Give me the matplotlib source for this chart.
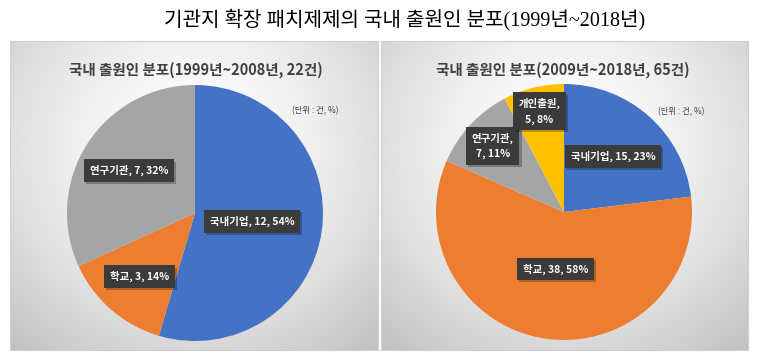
import numpy as np
import matplotlib.pyplot as plt
import matplotlib.patheffects as pe

plt.rcParams['font.family'] = ['Noto Sans CJK KR', 'DejaVu Sans']

#------------------------------------data-----------------------------------------
main_title = "기관지 확장 패치제제의 국내 출원인 분포(1999년~2018년)"

left_title = "국내 출원인 분포(1999년~2008년, 22건)"
left_names = ["국내기업", "학교", "연구기관"]
left_counts = [12, 3, 7]
left_pct = [54, 14, 32]

right_title = "국내 출원인 분포(2009년~2018년, 65건)"
right_names = ["국내기업", "학교", "연구기관", "개인출원"]
right_counts = [15, 38, 7, 5]
right_pct = [23, 58, 11, 8]

unit_text = "(단위 : 건, %)"

#------------------------------------style-----------------------------------------
colors = {"국내기업": "#4472C4", "학교": "#ED7D31", "연구기관": "#A5A5A5", "개인출원": "#FFC000"}
W, H = 757, 361

fig = plt.figure(figsize=(W / 100, H / 100), dpi=100)
fig.patch.set_facecolor("white")


def px_axes(x0, y0, w, h):
    # pixel box (top-left origin) -> figure axes
    return fig.add_axes([x0 / W, 1 - (y0 + h) / H, w / W, h / H])


def panel_bg(x0, y0, w, h):
    ax = px_axes(x0, y0, w, h)
    yy, xx = np.mgrid[0:1:200j, 0:1:300j]
    d = np.sqrt(((xx - 0.5) / 0.75) ** 2 + ((yy - 0.35) / 0.85) ** 2)
    v = 1.0 - 0.24 * np.clip(d, 0, 1.2) ** 1.6
    ax.imshow(np.dstack([v, v, v]), extent=[0, 1, 0, 1], origin="upper", aspect="auto")
    ax.set_xlim(0, 1)
    ax.set_ylim(0, 1)
    for s in ax.spines.values():
        s.set_color("#D0D0D0")
        s.set_linewidth(0.8)
    ax.set_xticks([])
    ax.set_yticks([])
    return ax


def draw_pie(cx, cy, r, names, counts, pct, dists, wrap):
    ax = px_axes(cx - r, cy - r, 2 * r, 2 * r)
    ax.set_facecolor("none")
    wedges, _ = ax.pie(counts, colors=[colors[n] for n in names], startangle=90,
                       counterclock=False, radius=1)
    ax.set_xlim(-1, 1)
    ax.set_ylim(-1, 1)
    ax.set_aspect("auto")
    for w, n, c, p, d, wr in zip(wedges, names, counts, pct, dists, wrap):
        ang = np.deg2rad((w.theta1 + w.theta2) / 2)
        sep = ",\n" if wr else ", "
        txt = f"{n}{sep}{c}, {p}%"
        t = ax.text(d * np.cos(ang), d * np.sin(ang), txt, ha="center", va="center",
                    fontsize=7.5, fontweight="bold", color="white", linespacing=1.6,
                    bbox=dict(boxstyle="square,pad=0.55", fc="#3B3B3B", ec="none"))
        # soft shadow under the label box
        t.get_bbox_patch().set_path_effects(
            [pe.SimplePatchShadow(offset=(1.5, -1.5), shadow_rgbFace="black", alpha=0.25),
             pe.Normal()])
    return ax


panel_bg(10, 41, 368, 309)
panel_bg(381, 41, 367, 309)

draw_pie(195, 213, 128, left_names, left_counts, left_pct,
         [0.45, 0.66, 0.61], [False, False, False])
draw_pie(564, 212, 128, right_names, right_counts, right_pct,
         [0.58, 0.45, 0.76, 0.81], [False, False, True, True])

sub = dict(fontsize=10.5, fontweight="bold", color="#404040", ha="center", va="center")
fig.text(196 / W, 1 - 70 / H, left_title, **sub)
fig.text(563 / W, 1 - 70 / H, right_title, **sub)

fig.text(315 / W, 1 - 111 / H, unit_text, fontsize=6, color="#404040", ha="center", va="center")
fig.text(681 / W, 1 - 112 / H, unit_text, fontsize=6, color="#404040", ha="center", va="center")

fig.text(405 / W, 1 - 20 / H, main_title, fontsize=14.5, color="black", ha="center", va="center",
         family=["Liberation Serif", "Noto Sans CJK KR"], fontweight="light")

plt.savefig("out.png", dpi=100)
